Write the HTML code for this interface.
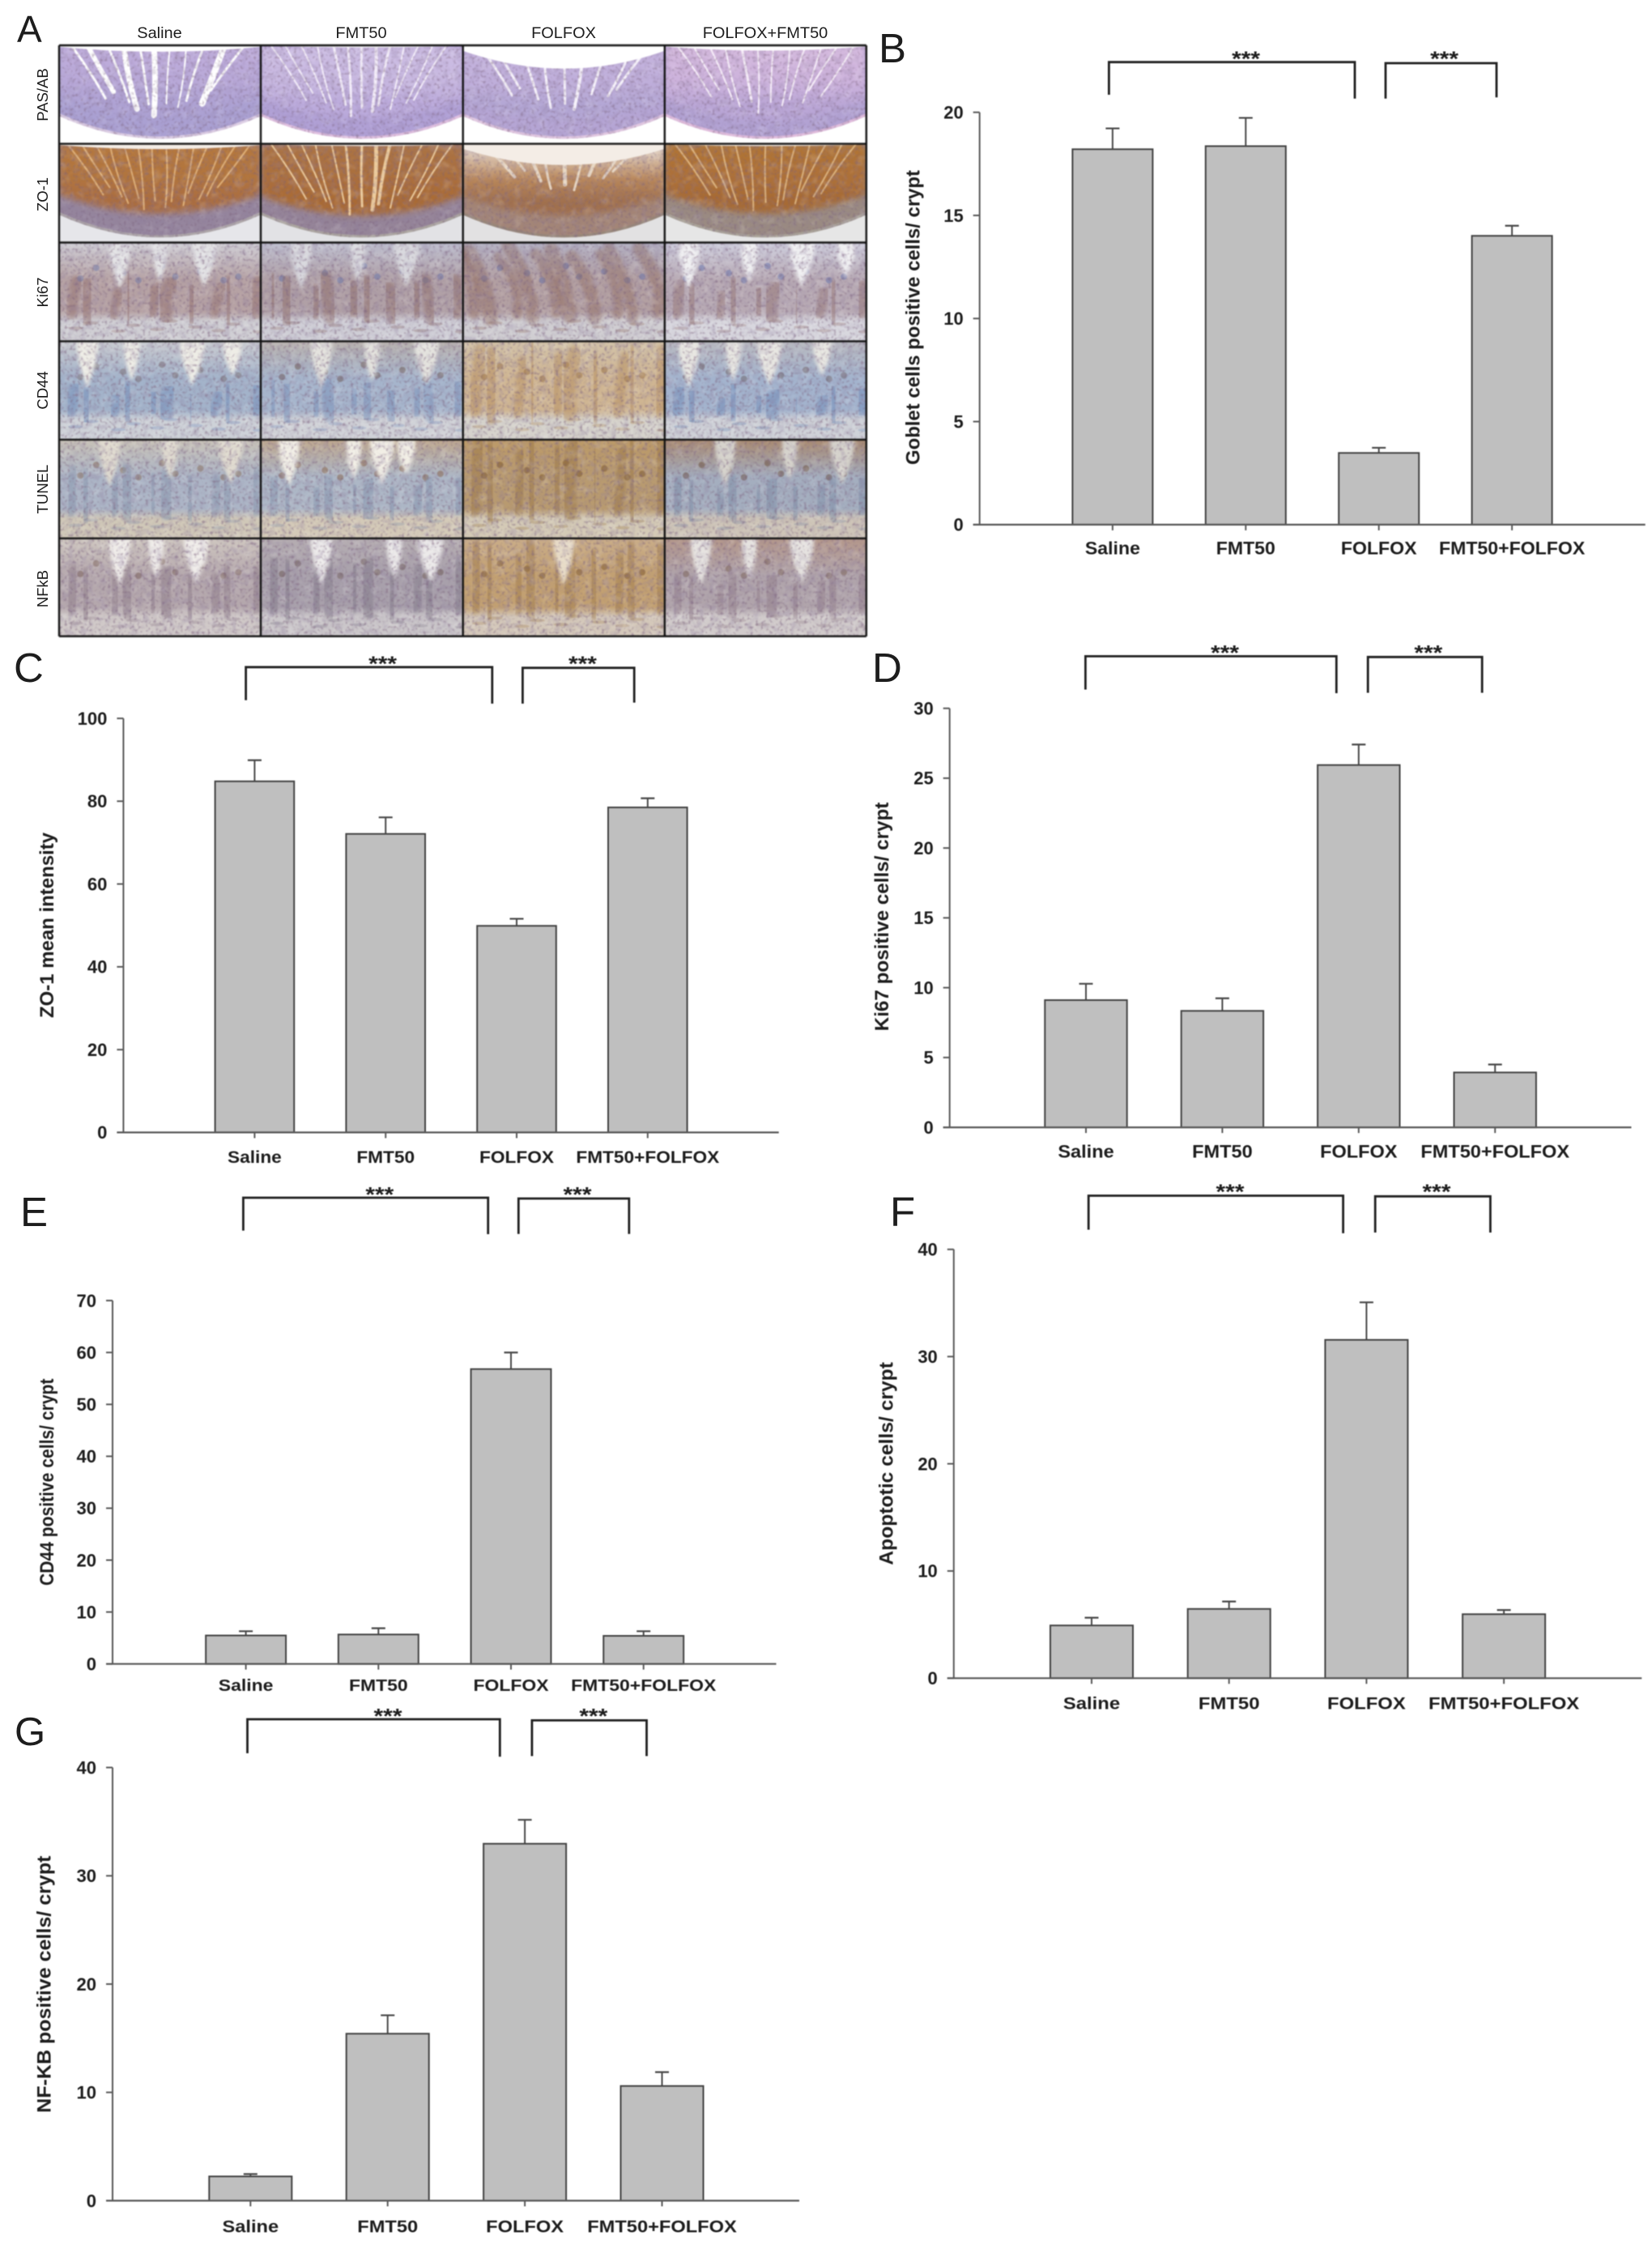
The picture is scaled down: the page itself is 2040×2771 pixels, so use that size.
<!DOCTYPE html>
<html lang="en">
<head>
<meta charset="utf-8">
<title>FMT50 and FOLFOX histology and quantification figure</title>
<style>
html,body{margin:0;padding:0;background:#fff;}
body{width:2040px;height:2771px;overflow:hidden;}
svg{display:block;}
text{font-family:"Liberation Sans",sans-serif;fill:#1d1d1d;}
#histology-content{filter:blur(.9px);}
.chart{filter:blur(.55px);}
</style>
</head>
<body>
<svg id="figure" xmlns="http://www.w3.org/2000/svg" width="2040" height="2771" viewBox="0 0 2040 2771">
  <defs>
    <filter id="mottle-dark" x="0" y="0" width="100%" height="100%">
      <feTurbulence type="fractalNoise" baseFrequency=".13" numOctaves="2" seed="4"/>
      <feColorMatrix type="matrix" values="0 0 0 0 .27  0 0 0 0 .2  0 0 0 0 .34  3.4 0 0 0 -1.55"/>
    </filter>
    <filter id="mottle-light" x="0" y="0" width="100%" height="100%">
      <feTurbulence type="fractalNoise" baseFrequency=".09" numOctaves="2" seed="11"/>
      <feColorMatrix type="matrix" values="0 0 0 0 1  0 0 0 0 1  0 0 0 0 1  3 0 0 0 -1.5"/>
    </filter>
    <filter id="mottle-fine" x="0" y="0" width="100%" height="100%">
      <feTurbulence type="fractalNoise" baseFrequency=".3" numOctaves="1" seed="7"/>
      <feColorMatrix type="matrix" values="0 0 0 0 .2  0 0 0 0 .12  0 0 0 0 .2  5 0 0 0 -2.7"/>
    </filter>
    <filter id="soft-edge" x="-20%" y="-20%" width="140%" height="140%">
      <feGaussianBlur stdDeviation="4"/>
    </filter>
    <filter id="soft-crypt" x="-60%" y="-20%" width="220%" height="140%">
      <feGaussianBlur stdDeviation="2.2"/>
    </filter>
  </defs>
  <rect x="0" y="0" width="2040" height="2771" fill="#ffffff"/>

  <g id="panel-a">
    <g id="histology-content"></g>
    <text x="21" y="52" font-size="46">A</text>
    <text transform="translate(197,47) scale(1.05,1)" text-anchor="middle" font-size="19">Saline</text>
    <text transform="translate(446,47) scale(1.05,1)" text-anchor="middle" font-size="19">FMT50</text>
    <text transform="translate(696,47) scale(1.05,1)" text-anchor="middle" font-size="19">FOLFOX</text>
    <text transform="translate(945,47) scale(1.05,1)" text-anchor="middle" font-size="19">FOLFOX+FMT50</text>
    <text transform="translate(59,117) rotate(-90)" text-anchor="middle" font-size="18.5">PAS/AB</text>
    <text transform="translate(59,240) rotate(-90)" text-anchor="middle" font-size="18.5">ZO-1</text>
    <text transform="translate(59,361) rotate(-90)" text-anchor="middle" font-size="18.5">Ki67</text>
    <text transform="translate(59,482) rotate(-90)" text-anchor="middle" font-size="18.5">CD44</text>
    <text transform="translate(59,604) rotate(-90)" text-anchor="middle" font-size="18.5">TUNEL</text>
    <text transform="translate(59,727) rotate(-90)" text-anchor="middle" font-size="18.5">NFkB</text>
  </g>

  <text x="1085" y="77" font-size="51">B</text>
  <text x="17" y="842" font-size="51">C</text>
  <text x="1077" y="842" font-size="51">D</text>
  <text x="25" y="1514" font-size="51">E</text>
  <text x="1099" y="1514" font-size="51">F</text>
  <text x="18" y="2155" font-size="49">G</text>

  <g id="charts"></g>
</svg>

<script>
/* ---------- chart data ---------- */
const categories = ['Saline', 'FMT50', 'FOLFOX', 'FMT50+FOLFOX'];

const gobletMeans = [18.21, 18.36, 3.48, 14.01];
const gobletErrors = [1.01, 1.37, 0.25, 0.49];
const gobletTicks = [0, 5, 10, 15, 20];

const zoMeans = [84.8, 72.1, 49.9, 78.5];
const zoErrors = [5.1, 4.0, 1.7, 2.2];
const zoTicks = [0, 20, 40, 60, 80, 100];

const ki67Means = [9.11, 8.34, 25.94, 3.93];
const ki67Errors = [1.17, 0.9, 1.47, 0.57];
const ki67Ticks = [0, 5, 10, 15, 20, 25, 30];

const cd44Means = [5.48, 5.67, 56.8, 5.41];
const cd44Errors = [0.82, 1.21, 3.2, 0.89];
const cd44Ticks = [0, 10, 20, 30, 40, 50, 60, 70];

const apoptoticMeans = [4.92, 6.46, 31.56, 5.97];
const apoptoticErrors = [0.72, 0.69, 3.5, 0.39];
const apoptoticTicks = [0, 10, 20, 30, 40];

const nfkbMeans = [2.24, 15.42, 32.96, 10.59];
const nfkbErrors = [0.22, 1.7, 2.21, 1.28];
const nfkbTicks = [0, 10, 20, 30, 40];

/* ---------- svg helpers ---------- */
const SVGNS = 'http://www.w3.org/2000/svg';
function mk(tag, attrs, parent) {
  const el = document.createElementNS(SVGNS, tag);
  for (const k in attrs) el.setAttribute(k, attrs[k]);
  if (parent) parent.appendChild(el);
  return el;
}

/* ---------- chart drawing ---------- */
function drawChart(id, title, means, errors, ticks, box) {
  const root = document.getElementById('charts');
  const g = mk('g', {class: 'chart'}, root);
  
  

  const yMax = ticks[ticks.length - 1];
  const yScale = v => box.yBase - v * (box.yBase - box.yTop) / yMax;
  const xScale = i => box.firstCenter + i * box.step;
  const axisColor = '#5a5a5a';

  means.forEach((m, i) => {
    const top = yScale(m);
    const errTop = yScale(m + errors[i]);
    const cx = xScale(i);

    const stem = mk('line', {x1: cx, x2: cx, y1: top, y2: errTop, stroke: '#4a4a4a', 'stroke-width': 2}, g);
    
    

    const cap = mk('line', {x1: cx - 8.5, x2: cx + 8.5, y1: errTop, y2: errTop, stroke: '#4a4a4a', 'stroke-width': 2.2}, g);
    
    

    const bar = mk('rect', {x: cx - box.barW / 2, y: top, width: box.barW, height: box.yBase - top, fill: '#bfbfbf', stroke: '#444444', 'stroke-width': 2}, g);
    
    

    const tick = mk('line', {x1: cx, x2: cx, y1: box.yBase, y2: box.yBase + 7, stroke: axisColor, 'stroke-width': 2}, g);
    
    

    const label = mk('text', {
      transform: 'translate(' + cx + ',' + (box.labelY + 0.36 * box.labelSize) + ') scale(' + box.labelStretch + ',1)',
      'text-anchor': 'middle', 'font-size': box.labelSize, 'font-weight': 'bold'
    }, g);
    label.textContent = categories[i];
    
    
  });

  const yAxis = mk('line', {x1: box.axisX, x2: box.axisX, y1: box.yTop, y2: box.yBase, stroke: axisColor, 'stroke-width': 2}, g);
  
  

  const xAxis = mk('line', {x1: box.axisX - 8, x2: box.xEnd, y1: box.yBase, y2: box.yBase, stroke: axisColor, 'stroke-width': 2.2}, g);
  
  

  ticks.forEach(t => {
    const y = yScale(t);
    const mark = mk('line', {x1: box.axisX - 8, x2: box.axisX, y1: y, y2: y, stroke: axisColor, 'stroke-width': 2}, g);
    
    

    const label = mk('text', {
      transform: 'translate(' + (box.axisX - 20) + ',' + (y + 7.8) + ')',
      'text-anchor': 'end', 'font-size': 22, 'font-weight': 'bold'
    }, g);
    label.textContent = String(t);
    
    
  });

  const yTitle = mk('text', {
    transform: 'translate(' + (box.titleX + 8.5) + ',' + box.titleY + ') rotate(-90)',
    'text-anchor': 'middle', 'font-size': 24, 'font-weight': 'bold',
    textLength: box.titleLen, lengthAdjust: 'spacingAndGlyphs'
  }, g);
  yTitle.textContent = title;
  
  

  box.brackets.forEach(b => {
    const path = mk('path', {
      d: 'M' + b.x1 + ' ' + b.low1 + ' V' + b.y + ' H' + b.x2 + ' V' + b.low2,
      fill: 'none', stroke: '#222', 'stroke-width': 2.8
    }, g);
    
    

    const stars = mk('text', {
      transform: 'translate(' + b.sx + ',' + (b.sy + 14) + ') scale(1.15,1)',
      'text-anchor': 'middle', 'font-size': 26, 'font-weight': 'bold'
    }, g);
    stars.textContent = '***';
    
    
  });
}

drawChart('goblet', 'Goblet cells positive cells/ crypt', gobletMeans, gobletErrors, gobletTicks, {
  axisX: 1209.7, xEnd: 2031.7, yTop: 138.7, yBase: 647.9, firstCenter: 1373.9, step: 164.4, barW: 99,
  labelY: 676.8, labelSize: 22, labelStretch: 1.05, titleX: 1127, titleY: 392, titleLen: 364,
  brackets: [
    {x1: 1369.4, x2: 1673, y: 76.7, low1: 117, low2: 121.7, sx: 1538.6, sy: 67.5},
    {x1: 1711, x2: 1848, y: 78, low1: 121.7, low2: 120.3, sx: 1783.6, sy: 67.5}
  ]
});
drawChart('zo1', 'ZO-1 mean intensity', zoMeans, zoErrors, zoTicks, {
  axisX: 152.4, xEnd: 961.7, yTop: 887.1, yBase: 1398.4, firstCenter: 314.4, step: 161.8, barW: 97.6,
  labelY: 1428.3, labelSize: 21.5, labelStretch: 1.055, titleX: 57.4, titleY: 1142.5, titleLen: 229,
  brackets: [
    {x1: 303.6, x2: 607.8, y: 823.8, low1: 864.6, low2: 868.9, sx: 472.6, sy: 814.7},
    {x1: 645.4, x2: 783.2, y: 824.7, low1: 868.9, low2: 867.6, sx: 719.4, sy: 814.7}
  ]
});
drawChart('ki67', 'Ki67 positive cells/ crypt', ki67Means, ki67Errors, ki67Ticks, {
  axisX: 1172.7, xEnd: 2014.5, yTop: 874.7, yBase: 1392.1, firstCenter: 1341, step: 168.4, barW: 101.4,
  labelY: 1421.6, labelSize: 22, labelStretch: 1.07, titleX: 1088.5, titleY: 1132, titleLen: 282.6,
  brackets: [
    {x1: 1340.4, x2: 1650.3, y: 810.4, low1: 851.5, low2: 856, sx: 1512.6, sy: 801},
    {x1: 1689.2, x2: 1830.2, y: 811.3, low1: 855.5, low2: 855.5, sx: 1763.8, sy: 801}
  ]
});
drawChart('cd44', 'CD44 positive cells/ crypt', cd44Means, cd44Errors, cd44Ticks, {
  axisX: 139, xEnd: 958.5, yTop: 1606, yBase: 2054.7, firstCenter: 303.6, step: 163.7, barW: 98.9,
  labelY: 2080.8, labelSize: 20.5, labelStretch: 1.12, titleX: 57.4, titleY: 1830.2, titleLen: 255.6,
  brackets: [
    {x1: 300.4, x2: 602.7, y: 1479, low1: 1519.6, low2: 1524, sx: 468.8, sy: 1470},
    {x1: 640.3, x2: 776.8, y: 1480, low1: 1523.7, low2: 1523.7, sx: 713, sy: 1470}
  ]
});
drawChart('apoptotic', 'Apoptotic cells/ crypt', apoptoticMeans, apoptoticErrors, apoptoticTicks, {
  axisX: 1177.8, xEnd: 2027.3, yTop: 1542.8, yBase: 2072.3, firstCenter: 1348, step: 169.7, barW: 102,
  labelY: 2102.6, labelSize: 21.5, labelStretch: 1.11, titleX: 1094, titleY: 1807.3, titleLen: 250.7,
  brackets: [
    {x1: 1344.2, x2: 1658.6, y: 1476.5, low1: 1518.5, low2: 1522.9, sx: 1519, sy: 1466.5},
    {x1: 1698.2, x2: 1840.4, y: 1477.3, low1: 1522, low2: 1522, sx: 1774, sy: 1466.5}
  ]
});
drawChart('nfkb', 'NF-KB positive cells/ crypt', nfkbMeans, nfkbErrors, nfkbTicks, {
  axisX: 139, xEnd: 987, yTop: 2182.6, yBase: 2717.5, firstCenter: 309.3, step: 169.4, barW: 102,
  labelY: 2748.7, labelSize: 21.5, labelStretch: 1.1, titleX: 54, titleY: 2450.3, titleLen: 317.5,
  brackets: [
    {x1: 305.5, x2: 617.3, y: 2123, low1: 2165, low2: 2169.3, sx: 479, sy: 2114},
    {x1: 656.9, x2: 798.5, y: 2124.4, low1: 2168.5, low2: 2168.5, sx: 732.8, sy: 2114}
  ]
});

/* ---------- panel A: painted histology approximations ---------- */
const gridX = [73, 322, 571.7, 820.8, 1069.8];
const gridY = [56, 177.6, 299.5, 421.4, 542.9, 664.8, 785.7];
const rowNames = ['pas-ab', 'zo-1', 'ki67', 'cd44', 'tunel', 'nfkb'];
const colNames = ['saline', 'fmt50', 'folfox', 'folfox-fmt50'];

const domeStyles = [
  [
    {c: ['#c0aedb', '#b8a8d8', '#aea2d3'], band: '#aaa0d2', edge: '#dccde4', out: '#ffffff', lineC: '#ffffff', top: .06, lines: [.06, .14, .24, .32, .4, .47, .55, .63, .72, .82, .92], widths: [3, 6, 3, 7, 3, 7, 2, 2, 3, 8, 3], fl: .66, bandH: .22},
    {c: ['#cdbee3', '#c7b7e0', '#bbaadb'], band: '#b0a0d5', edge: '#e0c0e0', out: '#ffffff', lineC: '#f4eefa', top: .02, lines: [.05, .12, .2, .28, .36, .43, .5, .57, .64, .71, .78, .85, .92], widths: [2, 2, 2, 2, 3, 3, 3, 4, 3, 2, 2, 2, 2], fl: .68, bandH: .2},
    {c: ['#c5b4de', '#bfaeda', '#b3a6d4'], band: '#b5a5d4', edge: '#e0c6e0', out: '#ffffff', lineC: '#f7f3fb', top: .22, lines: [.08, .16, .28, .4, .5, .6, .72, .84, .93], widths: [3, 3, 3, 3, 3, 4, 3, 3, 3], fl: .62, bandH: .18},
    {c: ['#d5bade', '#ccb2dc', '#baa6d6'], band: '#b2a2d3', edge: '#e0bcdc', out: '#ffffff', lineC: '#f8f0fa', top: .05, lines: [.06, .14, .22, .3, .38, .46, .54, .62, .7, .78, .86, .94], widths: [2, 2, 2, 2, 3, 2, 2, 2, 2, 2, 2, 2], fl: .64, bandH: .18}
  ],
  [
    {c: ['#b5783e', '#b1743e', '#aa6d40'], band: '#95859d', edge: '#ada6a8', out: '#e6e6ea', lineC: '#dfb078', top: .05, lines: [.04, .11, .18, .25, .32, .39, .46, .53, .6, .67, .74, .81, .88, .95], widths: [2, 2, 2, 2, 2, 2, 2, 2, 2, 2, 2, 2, 2, 2], fl: .64, bandH: .24},
    {c: ['#ab7344', '#ab6e3c', '#a96b34'], band: '#958498', edge: '#aba59f', out: '#e2e2e5', lineC: '#eccb9c', top: .02, lines: [.05, .13, .2, .27, .35, .42, .5, .57, .64, .71, .8, .88, .95], widths: [2, 2, 2, 2, 2, 3, 3, 5, 4, 2, 2, 2, 2], fl: .68, bandH: .22},
    {c: ['#ebe2da', '#b88659', '#a0704e'], band: '#a38577', edge: '#978678', out: '#e2e1e2', lineC: '#e8d8c4', top: .2, lines: [.1, .2, .3, .4, .5, .6, .7, .8, .9], widths: [4, 3, 4, 3, 5, 3, 4, 3, 3], fl: .44, bandH: .22},
    {c: ['#b07434', '#ad7038', '#a66a34'], band: '#9a8a82', edge: '#a9a297', out: '#e6e6e6', lineC: '#dcb37e', top: .02, lines: [.05, .12, .2, .28, .35, .42, .5, .58, .65, .72, .8, .88, .95], widths: [2, 2, 2, 2, 2, 2, 2, 2, 2, 2, 2, 2, 2], fl: .64, bandH: .24}
  ]
];

const cryptStyles = [
  [
    {up: '#d0cfd6', mid: '#b6a2a4', low: '#d0cfd4', wall: '#8c6662', lum: '#e3e3e5', start: .36, tilt: 4, nL: [.3, .5, .72], speck: '#5a6ca8'},
    {up: '#bfc0d0', mid: '#b0a0a6', low: '#cfced6', wall: '#86605c', lum: '#d9d9de', start: .34, tilt: -3, nL: [.2, .48, .72], speck: '#4f64a8'},
    {up: '#b4b2c4', mid: '#b3a0a2', low: '#d0ced2', wall: '#8e675c', lum: '#d8d4d4', start: .02, tilt: -26, nL: [], speck: '#4b60a8'},
    {up: '#cfcfde', mid: '#b8aab4', low: '#d8d7de', wall: '#8e6a68', lum: '#f0f0f2', start: .4, tilt: 2, nL: [.12, .42, .68, .9], speck: '#4b60a8'}
  ],
  [
    {up: '#c9cbd0', mid: '#a3b3ca', low: '#ced2d8', wall: '#6a88b8', lum: '#eeede6', start: .45, tilt: 2, nL: [.14, .36, .66, .86], speck: '#6c5a58'},
    {up: '#b9b2ae', mid: '#a6b5cc', low: '#d1d3d8', wall: '#6f8bb8', lum: '#e4e3de', start: .42, tilt: -2, nL: [.3, .55, .82], speck: '#5a3c30'},
    {up: '#d2c2a8', mid: '#cfb592', low: '#d6d3cc', wall: '#b18756', lum: '#e6ddcc', start: .06, tilt: 4, nL: [], speck: '#8a5c2c'},
    {up: '#b9bac0', mid: '#a3b3cd', low: '#cfd2d8', wall: '#6583b4', lum: '#e8e7e2', start: .48, tilt: 2, nL: [.12, .34, .52, .78], speck: '#5c4a48'}
  ],
  [
    {up: '#c9c3b8', mid: '#acb5c6', low: '#d0c8b8', wall: '#8090a8', lum: '#e0dbd0', start: .3, tilt: 0, nL: [.25, .55, .85], speck: '#7c5a3c'},
    {up: '#bfa88e', mid: '#adb7c6', low: '#d4cab8', wall: '#7c8ca8', lum: '#f2efe6', start: .4, tilt: 0, nL: [.14, .46, .6, .72], speck: '#7c4a22'},
    {up: '#bc9a68', mid: '#b89a70', low: '#d4cab6', wall: '#94703f', lum: '#d9caae', start: .02, tilt: 2, nL: [], speck: '#6a4016'},
    {up: '#a98a70', mid: '#a4aebf', low: '#cec5b8', wall: '#7586a2', lum: '#d6d3cc', start: .4, tilt: 0, nL: [.3, .62, .88], speck: '#5a3418'}
  ],
  [
    {up: '#cfc7c0', mid: '#b5a8ad', low: '#d0c9c8', wall: '#877483', lum: '#f0edea', start: .3, tilt: 0, nL: [.3, .48, .68], speck: '#66483c'},
    {up: '#b6aeb2', mid: '#a8a0ab', low: '#cbc7ca', wall: '#7a7282', lum: '#eceaea', start: .22, tilt: 0, nL: [.3, .66, .84], speck: '#5a4438'},
    {up: '#caad88', mid: '#c2a072', low: '#d4c8ba', wall: '#9c7644', lum: '#e8dcc8', start: .06, tilt: 0, nL: [.5], speck: '#6a4016'},
    {up: '#b4978a', mid: '#b0a4ab', low: '#d1cbcb', wall: '#8c7684', lum: '#e6e3e0', start: .38, tilt: 0, nL: [.18, .42, .68], speck: '#6a4a3c'}
  ]
];

const OFFSETS = [.3, -.6, .8, -.2, .5, -.9, .1, .7, -.4, .9, -.7, .2, -.3, .6, -.8, .4];

function noiseLayer(parent, x, y, w, h, strength) {
  mk('rect', {x: x, y: y, width: w, height: h, fill: '#000', filter: 'url(#mottle-light)', opacity: .14 * strength}, parent);
  mk('rect', {x: x, y: y, width: w, height: h, fill: '#000', filter: 'url(#mottle-dark)', opacity: .24 * strength}, parent);
  mk('rect', {x: x, y: y, width: w, height: h, fill: '#000', filter: 'url(#mottle-fine)', opacity: .4 * strength}, parent);
}

function verticalGradient(id, stops) {
  const defs = document.querySelector('#figure defs');
  const lg = mk('linearGradient', {id: id, x1: 0, y1: 0, x2: 0, y2: 1}, defs);
  stops.forEach(s => mk('stop', {offset: s[0], 'stop-color': s[1]}, lg));
  return 'url(#' + id + ')';
}

function domePath(x, y, w, h, edge, bottom) {
  const edgeY = y + h * edge;
  const ctrlY = y + h * (2 * bottom - edge);
  return 'M' + x + ' ' + y + ' H' + (x + w) + ' V' + edgeY + ' Q' + (x + w / 2) + ' ' + ctrlY + ' ' + x + ' ' + edgeY + ' Z';
}

function domeCell(g, x, y, w, h, s, key) {
  const defs = document.querySelector('#figure defs');
  mk('rect', {x: x, y: y, width: w, height: h, fill: s.out}, g);
  const outer = domePath(x, y, w, h, .72, .95);
  const clip = mk('clipPath', {id: 'dome-clip-' + key}, defs);
  mk('path', {d: outer}, clip);
  const tissue = mk('g', {'clip-path': 'url(#dome-clip-' + key + ')'}, g);
  mk('path', {d: outer, fill: s.edge}, tissue);
  mk('path', {d: domePath(x, y, w, h, .69, .925), fill: s.band}, tissue);
  const fill = verticalGradient('dome-' + key, [[0, s.c[0]], [.5, s.c[1]], [.8, s.c[2]]]);
  mk('path', {d: domePath(x, y, w, h, .68 - s.bandH * .7, .92 - s.bandH * .9), fill: fill, filter: 'url(#soft-edge)'}, tissue);
  s.lines.forEach((f, i) => {
    const fx = x + f * w;
    const tipX = x + w * (.5 + (f - .5) * .62) + OFFSETS[i] * 3;
    const depth = s.fl - Math.abs(f - .5) * .35 + OFFSETS[(i + 4) % 16] * .07;
    const tipY = y + h * depth;
    const midX = (fx + tipX) / 2 + OFFSETS[(i + 2) % 16] * 4;
    mk('path', {
      d: 'M' + fx + ' ' + y + ' Q' + midX + ' ' + (y + h * depth * .5) + ' ' + tipX + ' ' + tipY,
      fill: 'none', stroke: s.lineC, 'stroke-width': s.widths[i], 'stroke-linecap': 'round'
    }, tissue);
  });
  noiseLayer(tissue, x, y, w, h, 1);
  const t = h * s.top;
  mk('path', {
    d: 'M' + x + ' ' + y + ' H' + (x + w) + ' V' + (y + t * .25) + ' Q' + (x + w / 2) + ' ' + (y + t * 1.9) + ' ' + x + ' ' + (y + t * .25) + ' Z',
    fill: s.out === '#ffffff' ? '#ffffff' : '#f4ede6'
  }, g);
}

function cryptCell(g, x, y, w, h, s, key) {
  const fill = verticalGradient('crypt-' + key, [[0, s.up], [.38, s.mid], [.7, s.mid], [.8, s.low], [1, s.low]]);
  mk('rect', {x: x, y: y, width: w, height: h, fill: fill}, g);
  const n = 10;
  for (let i = 0; i < n; i++) {
    const bx = x + (i + .5) * w / n + OFFSETS[i] * 6;
    const by = y + h * (.74 + OFFSETS[i + 1] * .04);
    const tx = bx + s.tilt + OFFSETS[i + 2] * 5;
    const ty = y + h * (s.start + Math.abs(OFFSETS[i + 3]) * .14);
    mk('path', {
      d: 'M' + tx + ' ' + ty + ' Q' + (bx + OFFSETS[i] * 6) + ' ' + ((ty + by) / 2) + ' ' + bx + ' ' + by,
      fill: 'none', stroke: s.wall, 'stroke-width': 11 + Math.abs(OFFSETS[i + 4]) * 8, 'stroke-linecap': 'round', opacity: .42, filter: 'url(#soft-crypt)'
    }, g);
    mk('circle', {cx: bx + 12, cy: y + h * (.22 + Math.abs(OFFSETS[i + 2]) * .18), r: 4, fill: s.speck, opacity: .4}, g);
    mk('ellipse', {cx: bx + 6, cy: y + h * (.85 + OFFSETS[i] * .06), rx: 9, ry: 2, fill: s.wall, opacity: .3}, g);
  }
  s.nL.forEach((f, i) => {
    const fx = x + f * w;
    const hw = 12 + OFFSETS[i] * 4;
    const tip = y + h * (.42 + OFFSETS[i + 2] * .07);
    mk('path', {
      d: 'M' + (fx - hw) + ' ' + y + ' C' + (fx - hw) + ' ' + (y + h * .2) + ' ' + (fx - 5) + ' ' + (tip - 14) + ' ' + fx + ' ' + tip +
         ' C' + (fx + 5) + ' ' + (tip - 14) + ' ' + (fx + hw) + ' ' + (y + h * .2) + ' ' + (fx + hw) + ' ' + y + ' Z',
      fill: s.lum, filter: 'url(#soft-crypt)'
    }, g);
  });
  noiseLayer(g, x, y, w, h, 1.15);
}

(function drawHistology() {
  const host = document.getElementById('histology-content');
  const defs = document.querySelector('#figure defs');
  for (let r = 0; r < 6; r++) {
    for (let c = 0; c < 4; c++) {
      const x = gridX[c], y = gridY[r], w = gridX[c + 1] - x, h = gridY[r + 1] - y;
      const key = r + '-' + c;
      const clip = mk('clipPath', {id: 'clip-' + key}, defs);
      mk('rect', {x: x, y: y, width: w, height: h}, clip);
      const cell = mk('g', {'clip-path': 'url(#clip-' + key + ')'}, host);
      
      
      if (r < 2) domeCell(cell, x, y, w, h, domeStyles[r][c], key);
      else cryptCell(cell, x, y, w, h, cryptStyles[r - 2][c], key);
    }
  }
  gridX.forEach(x => {
    const line = mk('line', {x1: x, x2: x, y1: gridY[0], y2: gridY[6], stroke: '#111', 'stroke-width': 2.4}, host);
    
    
  });
  gridY.forEach(y => {
    const line = mk('line', {x1: gridX[0], x2: gridX[4], y1: y, y2: y, stroke: '#111', 'stroke-width': 2.4}, host);
    
    
  });
})();
</script>
</body>
</html>
